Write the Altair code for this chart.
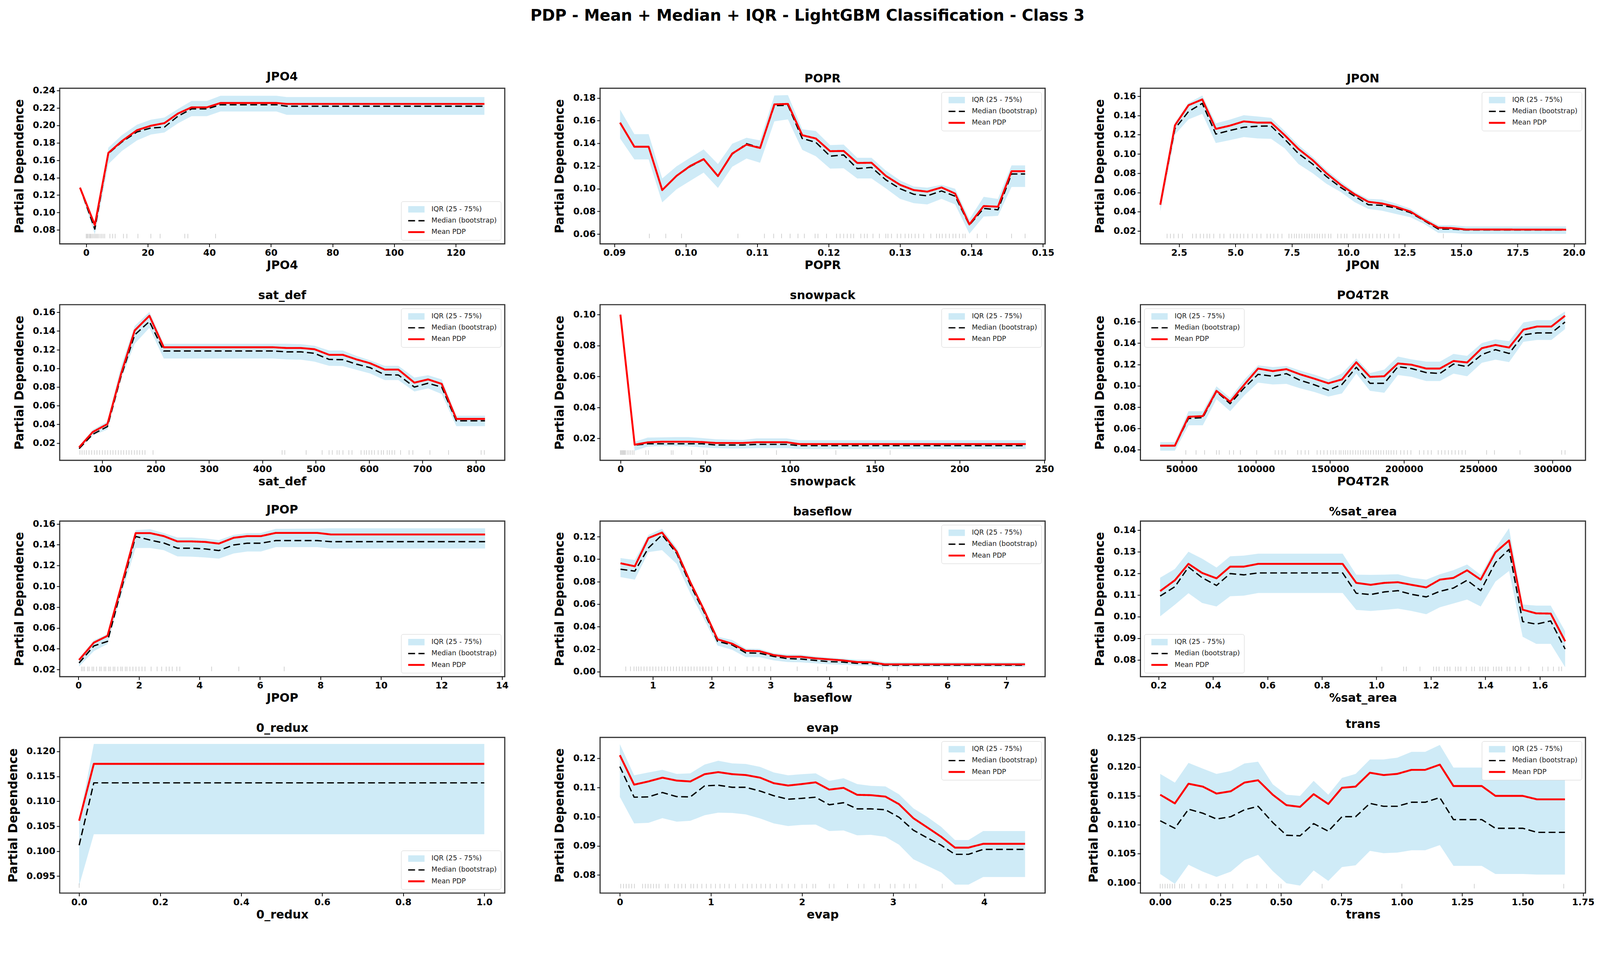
import altair as alt
import pandas as pd

# ---------------- data ----------------
JPO4_x = [-2.0, 2.8, 7.2, 11.6, 16.5, 21.0, 25.4, 29.8, 34.2, 39.2, 43.6, 61.8, 65.1, 129.3]
JPO4_mean = [0.1285, 0.0856, 0.1684, 0.182, 0.1945, 0.1996, 0.2026, 0.2136, 0.2207, 0.2207, 0.2257, 0.2257, 0.2246, 0.2246]
JPO4_median = [0.1285, 0.081, 0.1677, 0.181, 0.1925, 0.197, 0.198, 0.2106, 0.2189, 0.2189, 0.2237, 0.2237, 0.222, 0.222]
JPO4_q75 = [0.130, 0.089, 0.1745, 0.1888, 0.2008, 0.2065, 0.209, 0.2189, 0.228, 0.228, 0.234, 0.234, 0.2325, 0.2325]
JPO4_q25 = [0.127, 0.075, 0.1556, 0.1707, 0.1828, 0.1895, 0.1918, 0.2024, 0.2106, 0.2106, 0.2159, 0.2159, 0.2121, 0.2121]
JPO4_rug = [0, 0.3, 0.6, 1, 1.3, 1.6, 2, 2.4, 2.8, 3.2, 3.6, 4, 4.5, 5, 5.5, 6, 7.7, 8.6, 9.4, 12.1, 13.2, 16.8, 21, 24, 32, 33, 42]

POPR_x = [0.0908, 0.0928, 0.0948, 0.0967, 0.0987, 0.1006, 0.1025, 0.1045, 0.1065, 0.1085, 0.1104, 0.1124, 0.1143, 0.1163, 0.1182,
          0.1202, 0.1221, 0.124, 0.126, 0.128, 0.130, 0.1319, 0.1338, 0.1358, 0.1377, 0.1397, 0.1417, 0.1437, 0.1456, 0.1475]
POPR_mean = [0.1582, 0.137, 0.137, 0.0988, 0.1113, 0.120, 0.1261, 0.1111, 0.131, 0.1389, 0.1359, 0.1744, 0.1748, 0.1472, 0.1443,
             0.1331, 0.1333, 0.1227, 0.1229, 0.1113, 0.1034, 0.0988, 0.0974, 0.1011, 0.0957, 0.0685, 0.0847, 0.0841, 0.1154, 0.1154]
POPR_median = [0.1582, 0.137, 0.137, 0.0988, 0.1113, 0.1195, 0.1258, 0.1111, 0.1305, 0.1397, 0.1362, 0.1733, 0.1736, 0.1443, 0.1409,
               0.1287, 0.1298, 0.1177, 0.1188, 0.1078, 0.1, 0.0951, 0.0937, 0.098, 0.0934, 0.0679, 0.0826, 0.0814, 0.113, 0.113]
POPR_q75 = [0.1698, 0.1481, 0.1481, 0.109, 0.1197, 0.1273, 0.1347, 0.1218, 0.1397, 0.1449, 0.1426, 0.1822, 0.1826, 0.1524, 0.1509,
            0.1385, 0.1389, 0.1273, 0.1273, 0.116, 0.1073, 0.102, 0.1009, 0.1034, 0.1, 0.0731, 0.0928, 0.091, 0.1206, 0.1206]
POPR_q25 = [0.1443, 0.1258, 0.1258, 0.0879, 0.0995, 0.1069, 0.1142, 0.1007, 0.1194, 0.1266, 0.1229, 0.1594, 0.1611, 0.1343, 0.1287,
            0.1177, 0.118, 0.109, 0.109, 0.1003, 0.091, 0.0872, 0.0861, 0.091, 0.0861, 0.0603, 0.0754, 0.076, 0.1015, 0.1015]
POPR_rug = [0.0949, 0.0972, 0.0994, 0.1073, 0.111, 0.1123, 0.1134, 0.1146, 0.1157, 0.1166, 0.1181, 0.1185, 0.1197, 0.1211, 0.1216,
            0.1221, 0.1226, 0.1231, 0.1235, 0.1245, 0.125, 0.1254, 0.1262, 0.1271, 0.128, 0.1283, 0.1288, 0.1296, 0.1301, 0.1307,
            0.1312, 0.1316, 0.1321, 0.1326, 0.1333, 0.1343, 0.1351, 0.1355, 0.1359, 0.1364, 0.1369, 0.1374, 0.1378, 0.1383, 0.1388,
            0.1391, 0.1408, 0.1421, 0.1456, 0.1475]

JPON_x = [1.67, 2.32, 2.92, 3.53, 4.13, 4.74, 5.37, 5.98, 6.58, 7.18, 7.79, 8.42, 9.03, 9.68, 10.28, 10.89, 11.49, 12.1, 12.75,
          13.35, 13.99, 14.59, 15.2, 19.65]
JPON_mean = [0.0473, 0.1297, 0.1506, 0.1566, 0.126, 0.1293, 0.1338, 0.1325, 0.1325, 0.1195, 0.1052, 0.0936, 0.08, 0.0677, 0.0582,
             0.0503, 0.0486, 0.0452, 0.0402, 0.0316, 0.0234, 0.023, 0.0216, 0.0214]
JPON_median = [0.0473, 0.1263, 0.144, 0.1525, 0.1206, 0.1243, 0.1277, 0.1288, 0.129, 0.1154, 0.1004, 0.0895, 0.0766, 0.065, 0.0561,
               0.0473, 0.0466, 0.0439, 0.0391, 0.0309, 0.022, 0.022, 0.0211, 0.0211]
JPON_q75 = [0.0486, 0.1325, 0.1529, 0.1607, 0.1318, 0.1356, 0.1402, 0.1389, 0.1375, 0.1239, 0.1093, 0.097, 0.0834, 0.0711, 0.0606,
            0.0534, 0.0527, 0.0486, 0.0432, 0.0343, 0.0261, 0.0261, 0.0248, 0.0248]
JPON_q25 = [0.0404, 0.1202, 0.1359, 0.1416, 0.1113, 0.1143, 0.1175, 0.1161, 0.1157, 0.1059, 0.0895, 0.08, 0.0691, 0.0602, 0.05,
            0.0429, 0.0411, 0.0377, 0.0343, 0.0275, 0.018, 0.018, 0.017, 0.017]
JPON_rug = [1.97, 2.12, 2.27, 2.47, 2.65, 3.10, 3.26, 3.44, 3.59, 3.74, 3.86, 4.04, 4.31, 4.49, 4.77, 4.92, 5.07, 5.22, 5.37, 5.55,
            5.75, 5.95, 6.13, 6.40, 6.55, 6.70, 6.88, 7.06, 7.37, 7.49, 7.61, 7.71, 7.82, 7.94, 8.06, 8.17, 8.27, 8.39, 8.51, 8.62,
            8.73, 8.85, 8.97, 9.12, 9.23, 9.53, 9.68, 9.83, 9.94, 10.21, 10.33, 10.48, 10.63, 10.78, 10.93, 11.08, 11.27, 11.42,
            11.6, 11.79, 12.02, 12.25, 14.21]

SATDEF_x = [56.5, 82.1, 109.6, 135.2, 160.7, 188.2, 215.1, 419.6, 445.2, 472.0, 497.6, 525.1, 550.7, 576.3, 601.8, 629.3, 654.9,
            684.9, 710.5, 736.1, 763.5, 817.2]
SATDEF_mean = [0.0155, 0.0319, 0.0404, 0.0943, 0.1406, 0.1563, 0.1226, 0.1226, 0.1218, 0.1218, 0.1205, 0.1145, 0.1145, 0.1096,
               0.1055, 0.0987, 0.0987, 0.0847, 0.0882, 0.0834, 0.0459, 0.0459]
SATDEF_median = [0.0141, 0.0295, 0.0377, 0.0916, 0.1359, 0.1502, 0.1186, 0.1186, 0.1177, 0.1177, 0.1161, 0.1096, 0.1093, 0.1045,
                 0.1008, 0.0932, 0.0929, 0.08, 0.0841, 0.08, 0.0439, 0.0439]
SATDEF_q75 = [0.0169, 0.0343, 0.0432, 0.1025, 0.1454, 0.1604, 0.1263, 0.1263, 0.1263, 0.1259, 0.1243, 0.1191, 0.1191, 0.1134,
              0.1086, 0.1027, 0.1027, 0.0902, 0.0927, 0.0882, 0.0493, 0.0493]
SATDEF_q25 = [0.0139, 0.0282, 0.0346, 0.0888, 0.1263, 0.1434, 0.1106, 0.1106, 0.1096, 0.1093, 0.1072, 0.1027, 0.1025, 0.0984,
              0.0946, 0.0875, 0.0875, 0.0752, 0.0786, 0.0725, 0.0381, 0.0381]
SATDEF_rug = [58, 62, 66, 70, 75, 80, 85, 90, 95, 100, 105, 110, 115, 120, 125, 130, 135, 140, 145, 150, 155, 160, 165, 170, 175,
              180, 195, 437, 442, 482, 512, 525, 531, 540, 544, 551, 562, 568, 585, 591, 595, 600, 605, 610, 617, 623, 627, 634,
              638, 643, 648, 659, 675, 682, 714, 749, 810, 816]

SNOW_x = [0, 8.4, 16.1, 24.1, 32.1, 40.2, 48.2, 56.2, 64.3, 72.3, 80.3, 88.3, 98.0, 105.4, 239.0]
SNOW_mean = [0.100, 0.0159, 0.0174, 0.0178, 0.0178, 0.0178, 0.0176, 0.017, 0.017, 0.017, 0.0175, 0.0175, 0.0175, 0.0163, 0.0163]
SNOW_median = [0.100, 0.0156, 0.0165, 0.0165, 0.0165, 0.0165, 0.0165, 0.0157, 0.0157, 0.0157, 0.0161, 0.0161, 0.0161, 0.0153, 0.0153]
SNOW_q75 = [0.1018, 0.0178, 0.0205, 0.0206, 0.0208, 0.0208, 0.0202, 0.0194, 0.0192, 0.019, 0.02, 0.02, 0.02, 0.0188, 0.0188]
SNOW_q25 = [0.0998, 0.012, 0.0147, 0.015, 0.015, 0.0149, 0.0141, 0.0137, 0.0134, 0.0134, 0.0137, 0.0137, 0.0137, 0.0131, 0.0131]
SNOW_rug = [0, 0.5, 1, 1.5, 2, 2.5, 3, 4, 5, 6, 7, 8, 15, 16.5, 30, 31, 42, 49, 51, 92, 127, 159]

PO4_x = [35510, 45400, 54600, 64260, 73460, 82660, 92320, 101520, 111410, 120610, 129810, 139700, 148900, 158100, 167750,
         176950, 186610, 195810, 205010, 214900, 224100, 233300, 242500, 252390, 261590, 270790, 280450, 289650, 299310, 308510]
PO4_mean = [0.0439, 0.0439, 0.071, 0.0716, 0.0953, 0.0851, 0.1013, 0.1162, 0.1138, 0.1156, 0.1108, 0.1066, 0.1024, 0.106, 0.1221,
            0.1084, 0.109, 0.121, 0.1198, 0.1162, 0.1162, 0.1233, 0.1219, 0.1353, 0.1383, 0.1359, 0.1526, 0.1556, 0.1556, 0.1657]
PO4_median = [0.0439, 0.0439, 0.0694, 0.0702, 0.0947, 0.0833, 0.0983, 0.1108, 0.109, 0.1114, 0.1052, 0.1009, 0.0959, 0.1013,
              0.1174, 0.1024, 0.1024, 0.118, 0.1162, 0.1124, 0.1116, 0.1204, 0.118, 0.1293, 0.1339, 0.1303, 0.1478, 0.1496,
              0.1496, 0.1598]
PO4_q75 = [0.0472, 0.0472, 0.0762, 0.0762, 0.0995, 0.0887, 0.106, 0.1192, 0.1176, 0.1186, 0.1144, 0.1104, 0.106, 0.1116, 0.1257,
           0.112, 0.1152, 0.1275, 0.1248, 0.1227, 0.1227, 0.1299, 0.1281, 0.1401, 0.1436, 0.1419, 0.1594, 0.1616, 0.1616, 0.1697]
PO4_q25 = [0.0392, 0.0392, 0.063, 0.063, 0.0875, 0.0762, 0.0911, 0.103, 0.1013, 0.1018, 0.0977, 0.0941, 0.0899, 0.0929, 0.1114,
           0.0953, 0.0935, 0.1102, 0.1084, 0.1045, 0.1045, 0.1114, 0.109, 0.1216, 0.1245, 0.1222, 0.1413, 0.143, 0.143, 0.1532]
PO4_rug = [52760, 59660, 65410, 73460, 75300, 82200, 84960, 89560, 100600, 113020, 115320, 117620, 119920, 128200, 130500,
           133260, 135560, 141310, 143610, 145910, 148210, 150510, 152120, 153960, 156260, 157410, 159020, 160400, 162010,
           163620, 165460, 167300, 168910, 170520, 172360, 174200, 175810, 177420, 179260, 181100, 182710, 184320, 186160,
           188000, 189610, 191220, 193060, 194900, 197660, 199960, 202260, 204560, 210310, 213300, 216060, 218360, 222960,
           225260, 227560, 229860, 232160, 234460, 236760, 239060, 241360, 255620, 260910, 278160, 306220, 308520]

JPOP_x = [0.02, 0.51, 0.96, 1.41, 1.89, 2.37, 2.82, 3.27, 3.74, 4.19, 4.64, 5.13, 5.58, 6.03, 6.52, 7.89, 8.34, 13.44]
JPOP_mean = [0.0292, 0.0459, 0.0524, 0.0998, 0.1512, 0.1512, 0.1483, 0.1432, 0.1432, 0.1427, 0.1411, 0.1467, 0.1483, 0.1483,
             0.1514, 0.1514, 0.1499, 0.1499]
JPOP_median = [0.0263, 0.0427, 0.0471, 0.0963, 0.148, 0.1445, 0.1417, 0.1367, 0.1367, 0.136, 0.1344, 0.1398, 0.1415, 0.1415,
               0.144, 0.144, 0.143, 0.143]
JPOP_q75 = [0.0307, 0.0481, 0.0541, 0.1032, 0.1541, 0.155, 0.1512, 0.147, 0.147, 0.1461, 0.1445, 0.1495, 0.1512, 0.1512, 0.1553,
            0.1556, 0.1558, 0.1558]
JPOP_q25 = [0.0229, 0.0377, 0.0446, 0.0913, 0.1369, 0.1369, 0.1348, 0.1288, 0.1285, 0.1278, 0.1266, 0.1316, 0.1335, 0.1335,
            0.1377, 0.1377, 0.1364, 0.1364]
JPOP_rug = [0.1, 0.15, 0.2, 0.3, 0.35, 0.45, 0.5, 0.6, 0.7, 0.75, 0.85, 0.9, 1.0, 1.05, 1.15, 1.2, 1.3, 1.4, 1.45, 1.55, 1.6,
            1.7, 1.8, 1.9, 2.0, 2.1, 2.2, 2.4, 2.6, 2.75, 2.9, 3.0, 3.1, 3.25, 3.35, 4.4, 5.3, 6.8]

BASE_x = [0.451, 0.694, 0.925, 1.156, 1.405, 1.636, 1.867, 2.098, 2.347, 2.578, 2.809, 3.052, 3.283, 3.514, 3.757, 3.988, 4.22,
          4.468, 4.699, 4.93, 7.318]
BASE_mean = [0.0964, 0.0937, 0.1188, 0.1237, 0.1068, 0.0795, 0.055, 0.0288, 0.0249, 0.0186, 0.0183, 0.0148, 0.0133, 0.0133,
             0.0119, 0.011, 0.0101, 0.0086, 0.0084, 0.0066, 0.0066]
BASE_median = [0.0911, 0.0894, 0.11, 0.1216, 0.1051, 0.0771, 0.0532, 0.027, 0.0238, 0.0168, 0.0165, 0.0136, 0.0117, 0.0113,
               0.0101, 0.009, 0.0086, 0.0075, 0.0072, 0.0058, 0.0058]
BASE_q75 = [0.101, 0.0993, 0.1216, 0.127, 0.11, 0.0818, 0.0573, 0.0311, 0.0282, 0.0206, 0.0203, 0.0165, 0.0154, 0.0151, 0.0136,
            0.0125, 0.0117, 0.0107, 0.0105, 0.0084, 0.0084]
BASE_q25 = [0.0841, 0.0818, 0.1063, 0.108, 0.0958, 0.0696, 0.0468, 0.0233, 0.0195, 0.013, 0.013, 0.0101, 0.0086, 0.0084, 0.0075,
            0.0066, 0.0063, 0.0055, 0.0051, 0.0043, 0.0043]
BASE_rug = [0.54, 0.62, 0.68, 0.72, 0.76, 0.8, 0.85, 0.9, 0.95, 1.0, 1.05, 1.1, 1.15, 1.2, 1.25, 1.3, 1.35, 1.4, 1.45, 1.5, 1.55,
            1.6, 1.65, 1.7, 1.75, 1.8, 1.85, 1.9, 1.95, 2.0, 2.1, 2.2, 2.3, 2.4, 2.6, 2.7, 2.8, 2.9, 3.0, 3.45, 3.8, 3.95, 4.3,
            4.9, 5.15]

SATA_x = [0.206, 0.26, 0.31, 0.36, 0.413, 0.463, 0.513, 0.566, 0.876, 0.926, 0.979, 1.029, 1.079, 1.129, 1.183, 1.233, 1.283,
          1.333, 1.383, 1.437, 1.487, 1.537, 1.587, 1.64, 1.693]
SATA_mean = [0.1118, 0.1168, 0.1244, 0.1202, 0.1177, 0.1231, 0.1231, 0.1244, 0.1244, 0.1156, 0.1147, 0.1156, 0.1159, 0.1147,
             0.1135, 0.1171, 0.1179, 0.1214, 0.1171, 0.1297, 0.1352, 0.1032, 0.1015, 0.1014, 0.0886]
SATA_median = [0.1095, 0.1138, 0.1229, 0.118, 0.1144, 0.1199, 0.1193, 0.1202, 0.1202, 0.1108, 0.1102, 0.1114, 0.112, 0.1103,
               0.1091, 0.1117, 0.1132, 0.1168, 0.112, 0.125, 0.1311, 0.0977, 0.0965, 0.098, 0.085]
SATA_q75 = [0.118, 0.122, 0.13, 0.1268, 0.1227, 0.1279, 0.1282, 0.1291, 0.1291, 0.1194, 0.1193, 0.1194, 0.1196, 0.118, 0.1171,
            0.1196, 0.1215, 0.1241, 0.1193, 0.1316, 0.1409, 0.1056, 0.1051, 0.1051, 0.0932]
SATA_q25 = [0.1001, 0.1055, 0.1108, 0.1063, 0.1047, 0.1094, 0.1097, 0.1109, 0.1109, 0.1031, 0.1026, 0.1031, 0.1037, 0.1026,
            0.1011, 0.1043, 0.1061, 0.1079, 0.1047, 0.1162, 0.1211, 0.0907, 0.0874, 0.0874, 0.0766]
SATA_rug = [1.02, 1.1, 1.11, 1.16, 1.21, 1.22, 1.23, 1.25, 1.26, 1.27, 1.29, 1.3, 1.31, 1.33, 1.35, 1.36, 1.38, 1.39, 1.4, 1.41,
            1.43, 1.44, 1.45, 1.46, 1.48, 1.49, 1.51, 1.53, 1.56, 1.61, 1.63, 1.65, 1.67, 1.68]

REDUX_x = [0.0, 0.0362, 1.0]
REDUX_mean = [0.1061, 0.1175, 0.1175]
REDUX_median = [0.1012, 0.1137, 0.1137]
REDUX_q75 = [0.1062, 0.1215, 0.1215]
REDUX_q25 = [0.0931, 0.1034, 0.1034]
REDUX_rug = [0.0, 1.0]

EVAP_x = [0.0, 0.157, 0.314, 0.467, 0.624, 0.774, 0.931, 1.08, 1.234, 1.383, 1.54, 1.69, 1.847, 1.996, 2.15, 2.299, 2.456,
          2.606, 2.755, 2.916, 3.065, 3.222, 3.372, 3.529, 3.679, 3.828, 3.989, 4.449]
EVAP_mean = [0.1211, 0.111, 0.1121, 0.1134, 0.1124, 0.1121, 0.1146, 0.1153, 0.1146, 0.1143, 0.1134, 0.1115, 0.1107, 0.1112,
             0.1118, 0.1093, 0.1099, 0.1075, 0.1074, 0.1069, 0.1043, 0.0995, 0.0964, 0.0931, 0.0894, 0.0894, 0.0907, 0.0907]
EVAP_median = [0.1172, 0.1067, 0.1068, 0.1083, 0.1069, 0.1068, 0.1106, 0.1108, 0.1101, 0.1101, 0.1088, 0.1072, 0.106, 0.1063,
               0.1067, 0.1041, 0.1048, 0.1027, 0.1027, 0.1024, 0.0998, 0.0954, 0.0928, 0.0902, 0.0871, 0.0871, 0.0888, 0.0888]
EVAP_q75 = [0.1249, 0.1142, 0.1152, 0.1161, 0.1147, 0.1149, 0.1179, 0.1192, 0.1183, 0.1181, 0.1171, 0.1152, 0.1142, 0.1146,
            0.1149, 0.1123, 0.1132, 0.1112, 0.1106, 0.1104, 0.1077, 0.1029, 0.1, 0.0965, 0.092, 0.092, 0.0951, 0.0951]
EVAP_q25 = [0.1068, 0.0977, 0.0979, 0.0995, 0.0983, 0.0986, 0.1005, 0.1014, 0.1013, 0.1008, 0.0994, 0.0977, 0.0968, 0.0972,
            0.0973, 0.0951, 0.0953, 0.0936, 0.0938, 0.0931, 0.0904, 0.0854, 0.0832, 0.0809, 0.0767, 0.0767, 0.0793, 0.0793]
EVAP_rug = [0.01, 0.04, 0.07, 0.1, 0.13, 0.16, 0.25, 0.28, 0.31, 0.34, 0.37, 0.4, 0.43, 0.5, 0.53, 0.6, 0.64, 0.68, 0.72, 0.78,
            0.81, 0.85, 0.9, 0.95, 1.0, 1.05, 1.1, 1.15, 1.2, 1.27, 1.35, 1.4, 1.45, 1.5, 1.55, 1.6, 1.65, 1.72, 1.78, 1.85,
            1.92, 2.0, 2.05, 2.12, 2.15, 2.3, 2.35, 2.5, 2.62, 2.68, 2.8, 2.85, 2.97, 3.02, 3.12, 3.18, 3.25, 3.54]

TRANS_x = [0.0, 0.0607, 0.1171, 0.1764, 0.2329, 0.2921, 0.3486, 0.405, 0.4657, 0.5222, 0.5786, 0.635, 0.6957, 0.7522, 0.8086,
           0.8679, 0.9244, 0.9808, 1.04, 1.0965, 1.1572, 1.2137, 1.27, 1.3308, 1.3872, 1.4437, 1.5002, 1.5594, 1.675]
TRANS_mean = [0.1152, 0.1137, 0.1171, 0.1166, 0.1154, 0.1158, 0.1173, 0.1177, 0.1152, 0.1134, 0.1131, 0.1153, 0.1136, 0.1164,
              0.1166, 0.119, 0.1186, 0.1188, 0.1195, 0.1195, 0.1204, 0.1167, 0.1167, 0.1167, 0.115, 0.115, 0.115, 0.1144, 0.1144]
TRANS_median = [0.1107, 0.1094, 0.1127, 0.112, 0.111, 0.1114, 0.1126, 0.1132, 0.1104, 0.1082, 0.1081, 0.1102, 0.1089, 0.1114,
                0.1114, 0.1137, 0.1132, 0.1132, 0.1139, 0.1139, 0.1147, 0.1109, 0.1109, 0.1109, 0.1094, 0.1094, 0.1094, 0.1087,
                0.1087]
TRANS_q75 = [0.1188, 0.1173, 0.1207, 0.1197, 0.1188, 0.1193, 0.1206, 0.1209, 0.117, 0.1152, 0.115, 0.1176, 0.1152, 0.1181,
             0.1188, 0.1213, 0.1213, 0.1216, 0.1226, 0.1226, 0.1238, 0.1199, 0.1199, 0.1199, 0.118, 0.118, 0.118, 0.1178, 0.1178]
TRANS_q25 = [0.1015, 0.0998, 0.1031, 0.1019, 0.101, 0.1019, 0.1039, 0.1048, 0.102, 0.0999, 0.0995, 0.1021, 0.1003, 0.1027,
             0.103, 0.1055, 0.1051, 0.1052, 0.1056, 0.1056, 0.1065, 0.1029, 0.1029, 0.1029, 0.1015, 0.1015, 0.1015, 0.1014, 0.1014]
TRANS_rug = [0, 0.01, 0.02, 0.03, 0.04, 0.05, 0.06, 0.08, 0.09, 0.1, 0.13, 0.16, 0.19, 0.24, 0.27, 0.3, 0.36, 0.4, 0.44, 0.49,
             0.5, 0.67, 1.0, 1.3, 1.67]

# feature names, axis ticks, legend corners
NAMES = ["JPO4", "POPR", "JPON", "sat_def", "snowpack", "PO4T2R", "JPOP", "baseflow", "%sat_area", "0_redux", "evap", "trans"]
X_TICKS = [
    [0, 20, 40, 60, 80, 100, 120],
    [0.09, 0.10, 0.11, 0.12, 0.13, 0.14, 0.15],
    [2.5, 5.0, 7.5, 10.0, 12.5, 15.0, 17.5, 20.0],
    [100, 200, 300, 400, 500, 600, 700, 800],
    [0, 50, 100, 150, 200, 250],
    [50000, 100000, 150000, 200000, 250000, 300000],
    [0, 2, 4, 6, 8, 10, 12, 14],
    [1, 2, 3, 4, 5, 6, 7],
    [0.2, 0.4, 0.6, 0.8, 1.0, 1.2, 1.4, 1.6],
    [0.0, 0.2, 0.4, 0.6, 0.8, 1.0],
    [0, 1, 2, 3, 4],
    [0.0, 0.25, 0.5, 0.75, 1.0, 1.25, 1.5, 1.75],
]
X_FMT = ["d", ".2f", ".1f", "d", "d", "d", "d", "d", ".1f", ".1f", "d", ".2f"]
Y_TICKS = [
    [0.08, 0.10, 0.12, 0.14, 0.16, 0.18, 0.20, 0.22, 0.24],
    [0.06, 0.08, 0.10, 0.12, 0.14, 0.16, 0.18],
    [0.02, 0.04, 0.06, 0.08, 0.10, 0.12, 0.14, 0.16],
    [0.02, 0.04, 0.06, 0.08, 0.10, 0.12, 0.14, 0.16],
    [0.02, 0.04, 0.06, 0.08, 0.10],
    [0.04, 0.06, 0.08, 0.10, 0.12, 0.14, 0.16],
    [0.02, 0.04, 0.06, 0.08, 0.10, 0.12, 0.14, 0.16],
    [0.00, 0.02, 0.04, 0.06, 0.08, 0.10, 0.12],
    [0.08, 0.09, 0.10, 0.11, 0.12, 0.13, 0.14],
    [0.095, 0.100, 0.105, 0.110, 0.115, 0.120],
    [0.08, 0.09, 0.10, 0.11, 0.12],
    [0.100, 0.105, 0.110, 0.115, 0.120, 0.125],
]
Y_FMT = [".2f"] * 9 + [".3f", ".2f", ".3f"]
X_DOM = [[-8.6, 135.9], [0.088, 0.1503], [0.79, 20.51], [20.1, 854.3], [-12.0, 250.4], [22170, 322300],
         [-0.62, 14.09], [0.104, 7.659], [0.1336, 1.7677], [-0.048, 1.0505], [-0.217, 4.669], [-0.0819, 1.76]]
Y_DOM = [[0.064, 0.2426], [0.0513, 0.1886], [0.0066, 0.1682], [0.0016, 0.1682], [0.0058, 0.1065], [0.0302, 0.1761],
         [0.0131, 0.1628], [-0.0044, 0.1339], [0.0722, 0.1442], [0.0916, 0.1228], [0.0738, 0.1272], [0.0982, 0.1251]]
RUG_Y = [0.073, 0.0583, 0.0148, 0.010, 0.0108, 0.0376, 0.0206, 0.0026, 0.0758, 0.0931, 0.0762, 0.0994]
LEGEND_CORNER = ["bottom-right", "top-right", "top-right", "top-right", "top-right", "top-left",
                 "bottom-right", "top-right", "bottom-left", "bottom-right", "top-right", "top-right"]

SERIES_X = [JPO4_x, POPR_x, JPON_x, SATDEF_x, SNOW_x, PO4_x, JPOP_x, BASE_x, SATA_x, REDUX_x, EVAP_x, TRANS_x]
SERIES_MEAN = [JPO4_mean, POPR_mean, JPON_mean, SATDEF_mean, SNOW_mean, PO4_mean, JPOP_mean, BASE_mean, SATA_mean,
               REDUX_mean, EVAP_mean, TRANS_mean]
SERIES_MED = [JPO4_median, POPR_median, JPON_median, SATDEF_median, SNOW_median, PO4_median, JPOP_median, BASE_median,
              SATA_median, REDUX_median, EVAP_median, TRANS_median]
SERIES_Q75 = [JPO4_q75, POPR_q75, JPON_q75, SATDEF_q75, SNOW_q75, PO4_q75, JPOP_q75, BASE_q75, SATA_q75, REDUX_q75,
              EVAP_q75, TRANS_q75]
SERIES_Q25 = [JPO4_q25, POPR_q25, JPON_q25, SATDEF_q25, SNOW_q25, PO4_q25, JPOP_q25, BASE_q25, SATA_q25, REDUX_q25,
              EVAP_q25, TRANS_q25]
SERIES_RUG = [JPO4_rug, POPR_rug, JPON_rug, SATDEF_rug, SNOW_rug, PO4_rug, JPOP_rug, BASE_rug, SATA_rug, REDUX_rug,
              EVAP_rug, TRANS_rug]

IQR_LABEL = "IQR (25 - 75%)"
MED_LABEL = "Median (bootstrap)"
MEAN_LABEL = "Mean PDP"

# ---------------- styling ----------------
FONT = "DejaVu Sans"
W, H = 1172, 410
FILLERS = ["~a", "~b", "~c", "~d", "~e", "~f", "~g"]
SERIES_DOMAIN = [MED_LABEL, MEAN_LABEL] + FILLERS + [IQR_LABEL]
STROKE_RANGE = ["#000000", "#ff0000"] + ["#ffffff"] * 7 + ["#cdeaf6"]
DASH_RANGE = [[18, 9], [1, 0]] + [[1, 0]] * 7 + [[1, 0]]
WIDTH_RANGE = [3.5, 17.0]


def make_panel(i):
    band = pd.DataFrame({"x": SERIES_X[i], "lo": SERIES_Q25[i], "hi": SERIES_Q75[i]})
    med = pd.DataFrame({"x": SERIES_X[i], "y": SERIES_MED[i], "series": MED_LABEL})
    mean = pd.DataFrame({"x": SERIES_X[i], "y": SERIES_MEAN[i], "series": MEAN_LABEL})
    rug = pd.DataFrame({"x": SERIES_RUG[i], "y": RUG_Y[i]})

    xsc = alt.Scale(domain=X_DOM[i], nice=False, zero=False)
    ysc = alt.Scale(domain=Y_DOM[i], nice=False, zero=False)
    xax = alt.Axis(values=X_TICKS[i], format=X_FMT[i], title=NAMES[i], labelPadding=4, titlePadding=6)
    yax = alt.Axis(values=Y_TICKS[i], format=Y_FMT[i], title="Partial Dependence", labelPadding=4, titlePadding=18)

    leg = alt.Legend(title=None, orient=LEGEND_CORNER[i], values=[IQR_LABEL, MED_LABEL, MEAN_LABEL],
                     symbolType="M-1,0H3", symbolSize=462, labelFont=FONT, labelFontSize=18,
                     labelFontWeight="normal", labelColor="#222222", labelOffset=31, labelLimit=600,
                     clipHeight=22, rowPadding=8,
                     fillColor="#ffffff", strokeColor="#d0d0d0", cornerRadius=5, padding=10, offset=10)
    enc = dict(
        stroke=alt.Stroke("series:N", scale=alt.Scale(domain=SERIES_DOMAIN, range=STROKE_RANGE), legend=leg),
        strokeDash=alt.StrokeDash("series:N", scale=alt.Scale(domain=SERIES_DOMAIN, range=DASH_RANGE), legend=leg),
        strokeWidth=alt.StrokeWidth("series:N", scale=alt.Scale(type="point", domain=SERIES_DOMAIN,
                                                                  range=WIDTH_RANGE, padding=0), legend=leg),
    )

    area = alt.Chart(band).mark_area(color="#87CEEB", opacity=0.4, clip=True).encode(
        x=alt.X("x:Q", scale=xsc, axis=xax), y=alt.Y("lo:Q", scale=ysc, axis=yax), y2="hi:Q")
    ticks = alt.Chart(rug).mark_tick(orient="vertical", size=12, thickness=1.5, color="#555555",
                                     opacity=0.35, clip=True).encode(
        x=alt.X("x:Q", scale=xsc, axis=xax), y=alt.Y("y:Q", scale=ysc, axis=yax))
    l_med = alt.Chart(med).mark_line(clip=True, strokeJoin="round").encode(
        x=alt.X("x:Q", scale=xsc, axis=xax), y=alt.Y("y:Q", scale=ysc, axis=yax), **enc)
    l_mean = alt.Chart(mean).mark_line(clip=True, strokeJoin="round").encode(
        x=alt.X("x:Q", scale=xsc, axis=xax), y=alt.Y("y:Q", scale=ysc, axis=yax), **enc)

    return alt.layer(area, ticks, l_med, l_mean).properties(
        width=W, height=H,
        title=alt.TitleParams(text=NAMES[i], fontSize=31, fontWeight="bold", font=FONT, color="black",
                              anchor="middle", offset=8))


panels = [make_panel(i) for i in range(12)]

chart = alt.concat(
    *panels, columns=3, spacing={"row": 160, "column": 251}, bounds="flush",
    title=alt.TitleParams(text="PDP - Mean + Median + IQR - LightGBM Classification - Class 3",
                          fontSize=41.5, fontWeight="bold", font=FONT, color="black", anchor="middle", offset=122,
                          dx=18),
    padding={"left": 8, "top": -22, "right": 5, "bottom": 5},
).resolve_scale(
    stroke="independent", strokeDash="independent", strokeWidth="independent"
).resolve_legend(
    stroke="independent", strokeDash="independent", strokeWidth="independent"
).configure(
    font=FONT, background="white"
).configure_view(
    stroke="#333333", strokeWidth=3
).configure_axis(
    labelFont=FONT, labelFontSize=24, labelFontWeight="bold", labelColor="black",
    titleFont=FONT, titleFontSize=31, titleFontWeight="bold", titleColor="black",
    tickColor="black", tickSize=8, tickWidth=2, domain=False, grid=False,
    labelOverlap=False, labelFlush=False
).configure_axisY(titleFontSize=32)

chart.save("out.html", embed_options={"renderer": "svg", "actions": False})
